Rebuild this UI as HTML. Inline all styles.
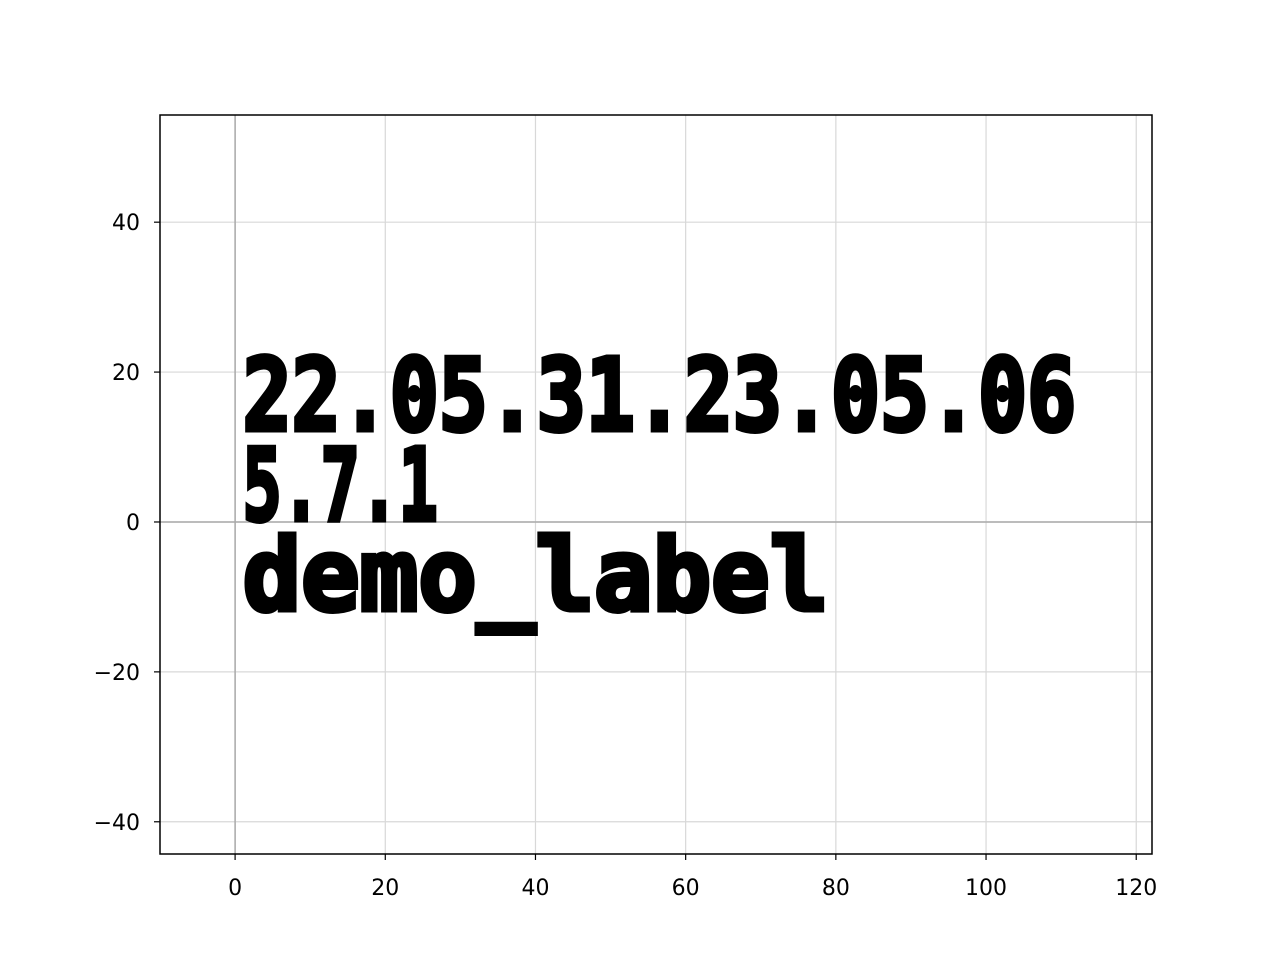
<!DOCTYPE html>
<html><head><meta charset="utf-8"><style>
body{margin:0;background:#fff}
svg{display:block}
</style></head><body>
<svg id="chart" width="1280" height="960" xmlns="http://www.w3.org/2000/svg" font-family="DejaVu Sans, Liberation Sans, sans-serif">
<rect width="1280" height="960" fill="#fff"/>
<g id="grid"></g>
<g id="ticks"></g>
<g id="texts"></g>
<rect x="160" y="115" width="992" height="739" fill="none" stroke="#000" stroke-width="1.5"/>
</svg>
<script>
const xTicks=[0,20,40,60,80,100,120];
const yTicks=[-40,-20,0,20,40];
const labelLines=["22.05.31.23.05.06","5.7.1","demo_label"];
const labelX=[1,1,1];
const labelY=[12,0,-12];
const labelWidths=[111,26,78]; // text extent in data units
const X0=160,X1=1152,Y0=115,Y1=854;
const xmin=-10,xmax=122.1,ymin=-44.3,ymax=54.3;
const sx=v=>X0+(v-xmin)/(xmax-xmin)*(X1-X0);
const sy=v=>Y1-(v-ymin)/(ymax-ymin)*(Y1-Y0);
const NS="http://www.w3.org/2000/svg";
const g=document.getElementById('grid'),t=document.getElementById('ticks'),tx=document.getElementById('texts');
function mk(tag,attrs,parent){const e=document.createElementNS(NS,tag);for(const k in attrs)e.setAttribute(k,attrs[k]);parent.appendChild(e);return e;}
xTicks.forEach(v=>{const x=sx(v);
 const l=mk('line',{x1:x,x2:x,y1:Y0,y2:Y1,stroke:'#d8d8d8','stroke-width':1.2},g);
 
 
 mk('line',{x1:x,x2:x,y1:Y1,y2:Y1+6,stroke:'#000','stroke-width':1.2},t);
 const s=mk('text',{x:x,y:Y1+41,'text-anchor':'middle','font-size':22},t);s.textContent=String(v);
 
 
});
yTicks.forEach(v=>{const y=sy(v);
 const l=mk('line',{x1:X0,x2:X1,y1:y,y2:y,stroke:'#d8d8d8','stroke-width':1.2},g);
 
 
 mk('line',{x1:X0-6,x2:X0,y1:y,y2:y,stroke:'#000','stroke-width':1.2},t);
 const s=mk('text',{x:X0-20,y:y+8,'text-anchor':'end','font-size':22},t);s.textContent=String(v).replace('-','\u2212');
 
 
});
const ah=mk('line',{x1:X0,x2:X1,y1:sy(0),y2:sy(0),stroke:'#aaa','stroke-width':1.5},g);


const av=mk('line',{x1:sx(0),x2:sx(0),y1:Y0,y2:Y1,stroke:'#aaa','stroke-width':1.5},g);


labelLines.forEach((s,i)=>{
 const e=mk('text',{x:sx(labelX[i]),y:sy(labelY[i])-2,'font-size':100,'font-weight':'bold',textLength:labelWidths[i]*(X1-X0)/(xmax-xmin),lengthAdjust:'spacingAndGlyphs',fill:'#000',stroke:'#000','stroke-width':5,'stroke-linejoin':'miter','font-family':'DejaVu Sans Mono, Liberation Mono, monospace'},tx);
 e.textContent=s;
 
 
});
</script>
</body></html>
